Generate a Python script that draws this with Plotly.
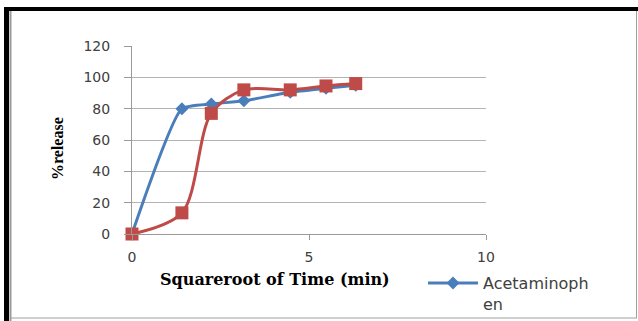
import plotly.graph_objects as go

# Square root of time (min^0.5)
sqrt_time = [0, 1.41, 2.24, 3.16, 4.47, 5.48, 6.32]
# Percentage of drug released
acetaminophen = [0, 80, 83, 85, 90.5, 93, 95]
second_series = [0, 13.5, 77, 92, 92, 94.5, 96]

x_ticks = [0, 5, 10]
y_ticks = [0, 20, 40, 60, 80, 100, 120]

W, H = 638, 321
L, R, T, B = 132, 486, 46, 234  # plot area in pixels


def px(x):
    return (x - L) / (R - L)


def py(y):
    return (B - y) / (B - T)


fig = go.Figure()

fig.add_trace(go.Scatter(
    x=sqrt_time, y=acetaminophen, name="Acetaminoph<br>en",
    mode="lines+markers", cliponaxis=False,
    line=dict(color="#4A7EBB", width=3, shape="spline", smoothing=0.5),
    marker=dict(symbol="diamond", size=10, color="#4A7EBB"),
))
fig.add_trace(go.Scatter(
    x=sqrt_time, y=second_series, name="",
    mode="lines+markers", showlegend=False, cliponaxis=False,
    line=dict(color="#BE4B48", width=3, shape="spline", smoothing=0.9),
    marker=dict(symbol="square", size=13, color="#BE4B48"),
))

axis_font = dict(family="DejaVu Sans", size=14, color="#404040")

fig.update_xaxes(
    range=[0, 10], tickvals=x_ticks, ticktext=[str(v) for v in x_ticks],
    showgrid=False, zeroline=False, showline=True, linecolor="#9A9A9A",
    linewidth=1, ticks="outside", ticklen=5, tickcolor="#9A9A9A",
    tickfont=axis_font, ticklabelstandoff=5,
)
fig.update_yaxes(
    range=[0, 120], tickvals=y_ticks, ticktext=[str(v) for v in y_ticks],
    showgrid=True, gridcolor="#B4B4B4", gridwidth=1, zeroline=False,
    showline=True, linecolor="#9A9A9A", linewidth=1,
    ticks="outside", ticklen=7, tickcolor="#9A9A9A",
    tickfont=axis_font, ticklabelstandoff=11,
)

annotations = [
    dict(text="<b>Squareroot of Time (min)</b>", x=px(275), y=py(279),
         xref="paper", yref="paper", showarrow=False,
         font=dict(family="DejaVu Serif", size=16, color="#000000"),
         xanchor="center", yanchor="middle"),
    dict(text="<b>%release</b>", x=px(57), y=py(149),
         xref="paper", yref="paper", showarrow=False, textangle=-90,
         font=dict(family="Liberation Serif", size=16, color="#000000"),
         xanchor="center", yanchor="middle"),
]

# Outer frame around the figure
shapes = [
    go.layout.Shape(type="rect", xref="paper", yref="paper",
                    x0=px(5), x1=px(638), y0=py(7), y1=py(11),
                    fillcolor="#000000", line=dict(color="#000000", width=0),
                    layer="above"),
    go.layout.Shape(type="rect", xref="paper", yref="paper",
                    x0=px(4), x1=px(9), y0=py(7), y1=py(321),
                    fillcolor="#000000", line=dict(color="#000000", width=0),
                    layer="above"),
    go.layout.Shape(type="line", xref="paper", yref="paper",
                    x0=px(10.5), x1=px(10.5), y0=py(11), y1=py(321),
                    line=dict(color="#9A9A9A", width=2), layer="above"),
    go.layout.Shape(type="line", xref="paper", yref="paper",
                    x0=px(10), x1=px(637), y0=py(318), y1=py(318),
                    line=dict(color="#A0A0A0", width=1), layer="above"),
    go.layout.Shape(type="line", xref="paper", yref="paper",
                    x0=px(636.5), x1=px(636.5), y0=py(11), y1=py(318),
                    line=dict(color="#A0A0A0", width=1), layer="above"),
]

fig.update_layout(
    width=W, height=H, autosize=False,
    margin=dict(l=L, r=W - R, t=T, b=H - B, autoexpand=False),
    paper_bgcolor="#FFFFFF", plot_bgcolor="#FFFFFF",
    showlegend=True,
    legend=dict(xref="container", yref="container",
                x=423 / W, y=(H - 266) / H, xanchor="left", yanchor="top",
                font=dict(family="DejaVu Sans", size=16, color="#404040"),
                bgcolor="rgba(0,0,0,0)", itemwidth=50, valign="top",
                tracegroupgap=0),
    annotations=annotations, shapes=shapes,
)

fig.write_html("out.html")
